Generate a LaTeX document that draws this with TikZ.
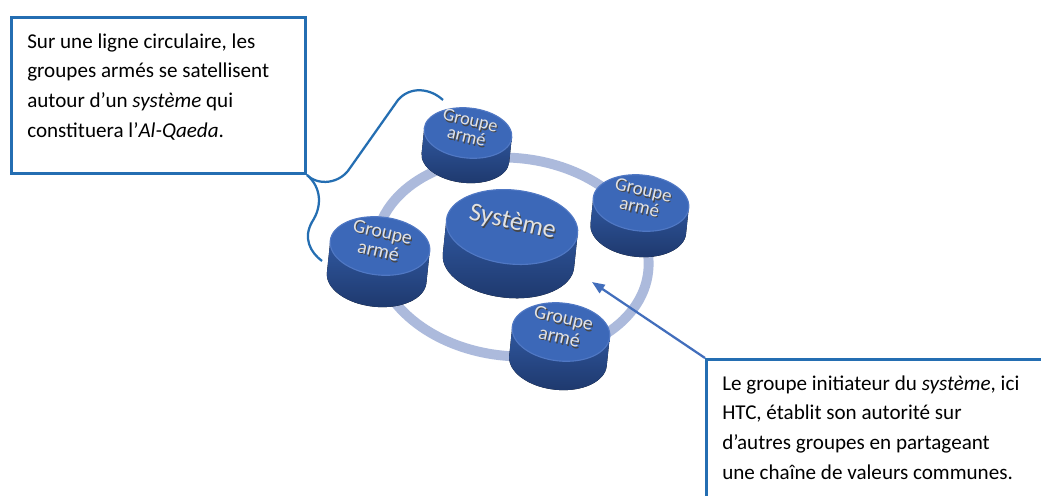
\documentclass[tikz,border=0pt]{standalone}
\usepackage{fontspec}
\setmainfont{Carlito}
\usetikzlibrary{arrows.meta,positioning}

\definecolor{calloutblue}{RGB}{36,110,178}
\definecolor{arrowblue}{RGB}{66,110,188}
\definecolor{ringblue}{RGB}{172,186,220}
\definecolor{pucktop}{RGB}{60,104,184}
\definecolor{puckrim}{RGB}{80,120,196}
\definecolor{puckside}{RGB}{48,88,160}
\definecolor{puckdark}{RGB}{30,56,108}
\definecolor{labelgray}{RGB}{226,226,226}
\definecolor{labelshadow}{RGB}{70,70,70}

% light letters with a small dark drop shadow
\newcommand{\embossed}[1]{\rlap{\textcolor{labelshadow}{\hspace{1pt}\raisebox{-1pt}{#1}}}#1}

% puck: name, x, y, x radius, y radius, depth, label, font
\newcommand{\puck}[8]{%
  \begin{scope}[shift={(#2,#3)}, rotate=-6]
    \fill[top color=puckside, bottom color=puckdark]
      (-#4,0) -- (-#4,#6) arc[start angle=180, end angle=0, x radius=#4, y radius=#5] -- (#4,0) -- cycle;
    \fill[pucktop] (0,0) ellipse [x radius=#4, y radius=#5];
    \draw[puckrim, line width=0.8pt] (0,0) ellipse [x radius=#4, y radius=#5];
    \node[puck label, font=#8] (#1) at (0,-4) {#7};
  \end{scope}%
}

\tikzset{
  callout/.style={draw=calloutblue, line width=2.1pt, anchor=north west, inner sep=0pt},
  note text/.style={anchor=base west, align=left, inner sep=0pt,
    font=\fontsize{15}{21}\selectfont},
  puck label/.style={text=labelgray, align=center, rotate=-13, inner sep=0pt},
  ring/.style={ringblue, line width=7pt},
  brace line/.style={calloutblue, line width=1.6pt},
  pointer/.style={arrowblue, line width=1.6pt, -{Triangle[length=9pt, width=7pt]}},
}

\begin{document}
\begin{tikzpicture}[x=0.025cm, y=-0.025cm]
    \useasboundingbox[fill=white] (0,0) rectangle (1041,495);

    % Orbit behind the pucks
    \draw[ring, rotate around={-6:(512,257)}] (512,257) ellipse [x radius=137, y radius=99];

    % Armed groups round the system
    \puck{group north}{468}{133}{44}{25}{25}{\embossed{Groupe}\\\embossed{armé}}{\fontsize{13}{12}\selectfont}
    \puck{group east}{641}{203}{48}{28}{26}{\embossed{Groupe}\\\embossed{armé}}{\fontsize{13.5}{12.5}\selectfont}
    \puck{system}{512}{227}{66}{37}{34}{\embossed{Système}}{\fontsize{18.5}{20}\selectfont}
    \puck{group west}{380}{246}{50}{29}{32}{\embossed{Groupe}\\\embossed{armé}}{\fontsize{14}{12.5}\selectfont}
    \puck{group south}{561}{332}{49}{29}{29}{\embossed{Groupe}\\\embossed{armé}}{\fontsize{14}{12.5}\selectfont}

    % Left note with its brace
    \node[callout, minimum width=7.35cm, minimum height=3.9cm] (situation) at (10,16) {};
    \node[note text] (situation text) at ([shift={(17,121)}]situation.north west)
      {Sur une ligne circulaire, les\\
       groupes armés se satellisent\\
       autour d’un \textit{système} qui\\
       constituera l’\textit{Al-Qaeda}.};
    \coordinate (brace tip) at (443,100);
    \coordinate (brace foot) at (322,261);
    \draw[brace line] (situation.south east) .. controls (318,186) and (340,184) .. (350,168)
      -- (398,100) .. controls (410,86) and (430,88) .. (brace tip);
    \draw[brace line] (situation.south east) .. controls (322,188) and (322,207) .. (312,222)
      .. controls (303,238) and (310,252) .. (brace foot);

    % Right note pointing at the system
    \node[callout, minimum width=9cm, minimum height=4cm] (initiator) at (705,358) {};
    \node[note text] (initiator text) at ([shift={(17,121)}]initiator.north west)
      {Le groupe initiateur du \textit{système}, ici\\
       HTC, établit son autorité sur\\
       d’autres groupes en partageant\\
       une chaîne de valeurs communes.};
    \coordinate (system edge) at (592,282);
    \draw[pointer] (initiator.north west) -- (system edge);
\end{tikzpicture}
\end{document}
